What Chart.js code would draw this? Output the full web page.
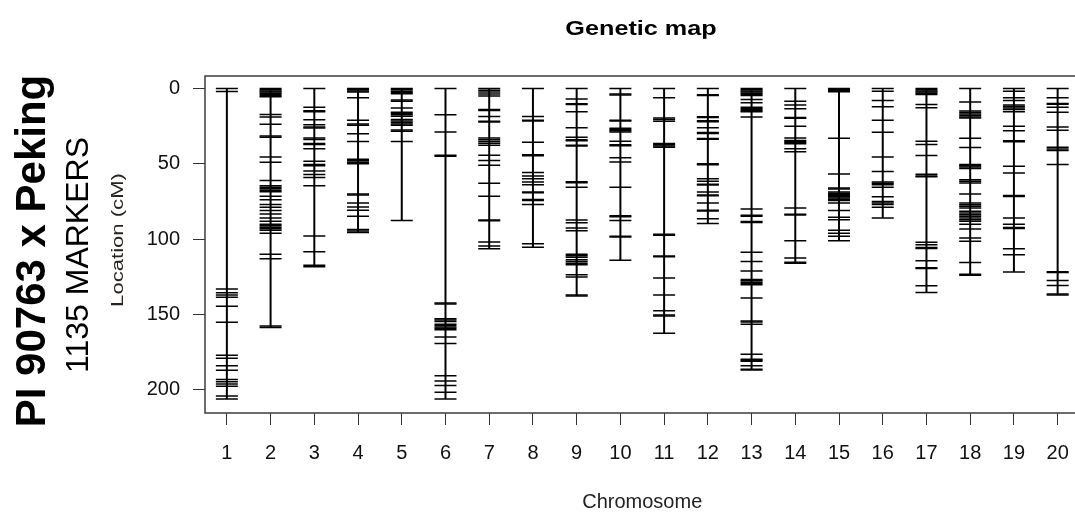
<!DOCTYPE html>
<html><head><meta charset="utf-8">
<script src="https://cdn.jsdelivr.net/npm/chart.js@4.4.1/dist/chart.umd.min.js"></script>
<style>
html,body{margin:0;padding:0;background:#fff;}
body{width:1075px;height:512px;overflow:hidden;position:relative;font-family:"Liberation Sans",Arial,sans-serif;}
#wrap{position:absolute;left:0;top:0;width:1092px;height:512px;}
.lbl{position:absolute;white-space:nowrap;line-height:1;color:#000;}
</style></head><body>
<div id="wrap"><canvas id="c" width="1092" height="512"></canvas></div>
<div class="lbl" style="left:641px;top:27px;font-weight:bold;font-size:21px;transform:translate(-50%,-50%) scaleX(1.2);">Genetic map</div>
<div class="lbl" style="left:31px;top:251px;font-weight:bold;font-size:42px;transform:translate(-50%,-50%) rotate(-90deg);">PI 90763 x Peking</div>
<div class="lbl" style="left:77px;top:255px;font-size:32px;transform:translate(-50%,-50%) rotate(-90deg);">1135 MARKERS</div>
<div class="lbl" style="left:118px;top:240px;font-size:16px;color:#2a2220;transform:translate(-50%,-50%) rotate(-90deg) scaleX(1.38);">Location (cM)</div>
<script>
// ---- data (cM positions of markers) ----
const chromosomes = ['1','2','3','4','5','6','7','8','9','10','11','12','13','14','15','16','17','18','19','20'];
const xTickValues = [1,2,3,4,5,6,7,8,9,10,11,12,13,14,15,16,17,18,19,20];
const yTickValues = [0,50,100,150,200];

const chr1 = [0,2,133,135.5,137,138.5,144.5,155,177,179,184,187,193,194.5,196,197.5,204,206];
const chr2 = [0,0.8,1.6,2.4,3.2,4,4.8,5.5,17.3,19,23.7,31.5,32.3,45.4,49,61,64.5,65.5,66.5,67.5,68.5,71.5,73.8,76.9,78.8,81,83.3,86,88,90,91,92,93,94,96,110,113,157.5,158.5];
const chr3 = [0,12.4,14.7,15.5,20.8,24,25.5,26.2,32.9,33.8,36.5,37.2,40,48.3,50.5,51.3,54.7,57,59,64.5,97.9,108.3,117.3,118.3];
const chr4 = [0,0.8,1.6,2.4,6.2,21,23.6,24.4,30,35.2,47,48,49,50,70,70.7,76,78.6,80.8,84.8,93.5,94.5,95.5];
const chr5 = [0,0.9,1.8,2.7,3.5,7.6,8.4,13,15.7,16.6,17.5,18.4,20.6,21.6,22.6,23.6,24.4,27.5,28.3,35.2,87.5];
const chr6 = [0,17.5,28.8,44.3,45,142.3,143,152.8,153.6,154.5,156.4,157.3,158.2,159.1,160,164.8,169.2,190.5,194,197,201.5,206];
const chr7 = [0,1.2,2.4,3.6,5,14,14.6,18.6,21.7,22.3,32.8,34,35.2,36.4,37.6,44.3,47.8,51,62.9,71.5,87.2,87.8,101.9,104.5,106.3];
const chr8 = [0,18.6,21,21.6,35.7,44,44.6,55.8,58,59.8,62,63.8,68.6,69.2,73.7,74.3,77,103,105.4];
const chr9 = [0,7,10.1,10.7,15.5,26.1,32.3,34,34.6,37.6,38.2,61.9,62.5,65.6,87.3,89,92.6,94.4,110,111,112,113.6,114.8,116,117,123.6,125,137,137.6];
const chr10 = [0,3.7,4.3,21,21.6,26.4,27.2,28,28.8,35,37.4,38,46,48.7,65.6,84.5,85.1,87.5,98,98.6,114];
const chr11 = [0,6.2,19.5,20.6,21.7,36.5,37.3,38.1,39,96.7,97.3,111.1,111.7,125.8,137,147.5,150.3,150.9,162.3];
const chr12 = [0,4.1,4.7,18.7,19.3,21.4,22,26,29.2,29.8,33.1,33.7,50,50.6,59.8,61.6,63.5,64.1,68.7,70.6,71.2,76,80.7,81.3,86.4,89.5];
const chr13 = [0,0.8,1.6,2.4,3.2,4,4.6,7.3,9.5,12.4,13.2,14,14.8,15.5,19,80,84.1,84.7,88.3,88.9,108.7,114.7,121,126.7,127.6,128.5,129.4,130.2,139,154.3,154.9,156.4,176.3,179.7,180.3,181,184,186.2,186.8];
const chr14 = [0,8.4,11,13.5,19.2,19.8,25,32.8,34.5,35.2,35.9,36.6,40,42,79.3,83.4,84,101,112.5,115.3,115.9];
const chr15 = [0,0.7,1.4,2.2,33,56.7,66.1,66.7,68.7,69.5,70.3,71.1,71.9,72.7,73.5,74.3,76,81,85.5,87,94,96,98,101];
const chr16 = [0,1.8,8,12.2,21,29,45.4,55.1,62,62.9,63.8,65.6,71.8,74.9,75.9,77,78.8,86];
const chr17 = [0,0.8,1.6,2.4,3.2,4,10.6,12.8,35,37.2,44.5,56.9,58,58.6,102,103.6,105.5,106.1,114.3,118.9,119.5,130.9,135.3];
const chr18 = [0,8.9,15,16,17,18,19,19.5,33,39.2,50.5,51.3,52.1,53,60.5,61.6,62.7,70,76,77.1,78.2,79.3,81.5,82.6,83.7,84.8,85.9,87,88,90,93.2,99.2,101.4,115.4,123.3,123.9];
const chr19 = [0,1.8,6.2,8,11,12,13,14,15.5,25,28,34.7,35.3,51.6,56,71,71.6,86,90,92.3,92.9,106.3,110.3,121.8];
const chr20 = [0,6.2,9.9,10.5,12.4,15.7,25.5,27.7,39,40.1,41.2,50.5,121.5,122.1,127.4,130.7,136.4,137];

const markerSets = [chr1,chr2,chr3,chr4,chr5,chr6,chr7,chr8,chr9,chr10,chr11,chr12,chr13,chr14,chr15,chr16,chr17,chr18,chr19,chr20];

// ---- build datasets ----
const datasets = [];
markerSets.forEach((m, i) => {
  const x = xTickValues[i];
  datasets.push({
    type: 'line',
    data: [{x: x, y: Math.min(...m)}, {x: x, y: Math.max(...m)}],
    borderColor: '#000', borderWidth: 2, pointRadius: 0, showLine: true, fill: false
  });
});
const markerPoints = [];
markerSets.forEach((m, i) => m.forEach(v => markerPoints.push({x: xTickValues[i], y: v})));
datasets.push({
  type: 'scatter',
  data: markerPoints,
  pointStyle: 'line',
  pointRadius: 11,
  borderColor: '#000',
  backgroundColor: '#000',
  borderWidth: 1.5
});

const framePlugin = {
  id: 'frame',
  afterDraw(chart) {
    const a = chart.chartArea, ctx = chart.ctx;
    ctx.save();
    ctx.strokeStyle = '#3c3c3c';
    ctx.lineWidth = 1.5;
    ctx.strokeRect(a.left, a.top, a.right - a.left, a.bottom - a.top);
    ctx.restore();
  }
};

new Chart(document.getElementById('c'), {
  type: 'scatter',
  data: { datasets },
  options: {
    responsive: false,
    animation: false,
    events: [],
    layout: { padding: { left: 100, top: 76, right: 0, bottom: 0 } },
    plugins: { legend: { display: false }, tooltip: { enabled: false }, title: { display: false } },
    scales: {
      x: {
        type: 'linear', min: 0.5, max: 20.5,
        afterBuildTicks: s => { s.ticks = xTickValues.map(v => ({value: v})); },
        afterFit: s => { s.height = 99; },
        ticks: {
          autoSkip: false, maxRotation: 0, padding: 16,
          color: '#111', font: { family: 'Liberation Sans', size: 20 },
          callback: (v) => chromosomes[xTickValues.indexOf(v)]
        },
        grid: { drawOnChartArea: false, drawTicks: true, tickLength: 12, color: '#333', lineWidth: 1 },
        border: { display: false },
        title: { display: true, text: 'Chromosome', color: '#222', font: { family: 'Liberation Sans', size: 20, lineHeight: 1 }, padding: { top: 0, bottom: 0 } }
      },
      y: {
        type: 'linear', reverse: true, min: -8.28, max: 215.28,
        afterBuildTicks: s => { s.ticks = yTickValues.map(v => ({value: v})); },
        afterFit: s => { s.width = 105; },
        ticks: { padding: 13, color: '#111', font: { family: 'Liberation Sans', size: 20 } },
        grid: { drawOnChartArea: false, drawTicks: true, tickLength: 12, color: '#333', lineWidth: 1 },
        border: { display: false },
        title: { display: false }
      }
    }
  },
  plugins: [framePlugin]
});
</script>
</body></html>
